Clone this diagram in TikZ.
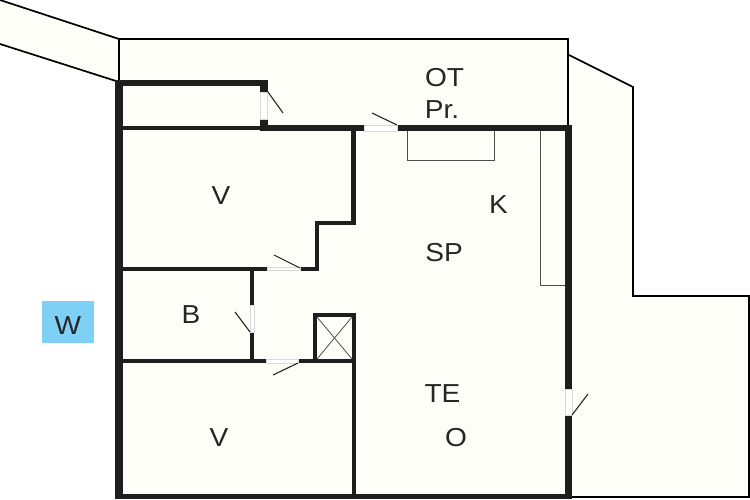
\documentclass[tikz,border=0pt]{standalone}
\usepackage{fontspec}
\setmainfont[FakeStretch=1.08]{Liberation Sans}
\definecolor{floorcol}{HTML}{FEFEF8}
\definecolor{wallcol}{HTML}{1E1E1E}
\definecolor{tagcol}{HTML}{7FD0F5}
\tikzset{
  wall/.style={draw=wallcol,line width=7.5pt},
  thinwall/.style={draw=wallcol,line width=4pt},
  outline/.style={draw=black,line width=1.7pt},
  fixture/.style={draw=black!70,line width=0.9pt},
  leaf/.style={draw=black!85,line width=1.1pt},
  gap/.style={fill=white,draw=black!15,line width=0.6pt},
  room/.style={font=\fontsize{26}{28}\selectfont,text=black!85,inner sep=0pt}
}
\begin{document}
\begin{tikzpicture}[x=1pt,y=-1pt]
\useasboundingbox (0,0) rectangle (750,500);
% ground
\fill[white] (0,0) rectangle (750,500);
\fill[floorcol] (0,0) -- (119,39) -- (568,39) -- (568,55) -- (633,87) -- (633,296) -- (749,296) -- (749,497) -- (119,497) -- (119,81) -- (0,44) -- cycle;

% outside lines
\draw[outline] (0,0) -- (119,39) -- (568,39) -- (568,125);
\draw[outline] (0,44) -- (116,81);
\draw[outline] (119,39) -- (119,81);
\draw[outline] (569,55) -- (633,87) -- (633,296) -- (749,296) -- (749,497) -- (570,497);

% fixtures
\draw[fixture] (407,131) -- (407,160) -- (494,160) -- (494,131);
\draw[fixture] (540.5,131) -- (540.5,285) -- (565,285);

% walls
\draw[wall] (119,80) -- (119,499);
\draw[wall,line width=6pt] (116,83) -- (268,83);
\draw[wall,line width=8pt] (264,80) -- (264,92);
\draw[wall,line width=8pt] (264,119) -- (264,131);
\draw[wall,line width=6pt] (264,128) -- (364,128);
\draw[wall,line width=6pt] (397,128) -- (572,128);
\draw[thinwall] (122,128) -- (262,128);
\draw[wall] (568.5,125) -- (568.5,389);
\draw[wall] (568.5,415) -- (568.5,499);
\draw[wall,line width=5.5pt] (115,496.5) -- (572,496.5);
\draw[thinwall,line width=5pt] (353.5,130) -- (353.5,225);
\draw[thinwall] (355.5,223) -- (315,223);
\draw[thinwall] (316.5,221) -- (316.5,271);
\draw[thinwall] (318,269) -- (300,269);
\draw[thinwall] (122,269) -- (267,269);
\draw[thinwall] (252,269) -- (252,305);
\draw[thinwall] (252,332) -- (252,361);
\draw[thinwall] (122,361) -- (266,361);
\draw[thinwall] (298,361) -- (355,361);
\draw[thinwall] (354,313) -- (354,494);
\draw[thinwall] (315,361) -- (315,315) -- (356,315);
\draw[fixture,line width=0.8pt] (317,317) -- (352,359);
\draw[fixture,line width=0.8pt] (352,317) -- (317,359);

% door gaps
\draw[gap] (260.5,92) rectangle (267.5,119);
\draw[gap] (364,125.5) rectangle (397,131);
\draw[gap] (267,267.5) rectangle (300,270.5);
\draw[gap] (250,305) rectangle (254,332);
\draw[gap] (266,359.5) rectangle (298,363);
\draw[gap] (565,389) rectangle (572,415);

% door leaves
\draw[leaf] (268,92) -- (283,113);
\draw[leaf] (397,125) -- (372,113);
\draw[leaf] (300,268) -- (274,255);
\draw[leaf] (250,332) -- (235,312);
\draw[leaf] (298,363) -- (273,375);
\draw[leaf] (572,415) -- (588,394);

% tag
\node[fill=tagcol,minimum width=52pt,minimum height=42pt,inner sep=0pt] (tag) at (68,322) {};

% labels
\node[room] (ot) at (444.5,78) {OT};
\node[room] (pr) at (442,109.5) {Pr.};
\node[room] (k) at (498.5,205) {K};
\node[room] (sp) at (444,253) {SP};
\node[room] (te) at (442.5,394) {TE};
\node[room] (o) at (456,437.5) {O};
\node[room] (v1) at (221,195.5) {V};
\node[room] (b) at (191,314.5) {B};
\node[room] (v2) at (219,437.5) {V};
\node[room] (w) at (68,326) {W};
\end{tikzpicture}
\end{document}
